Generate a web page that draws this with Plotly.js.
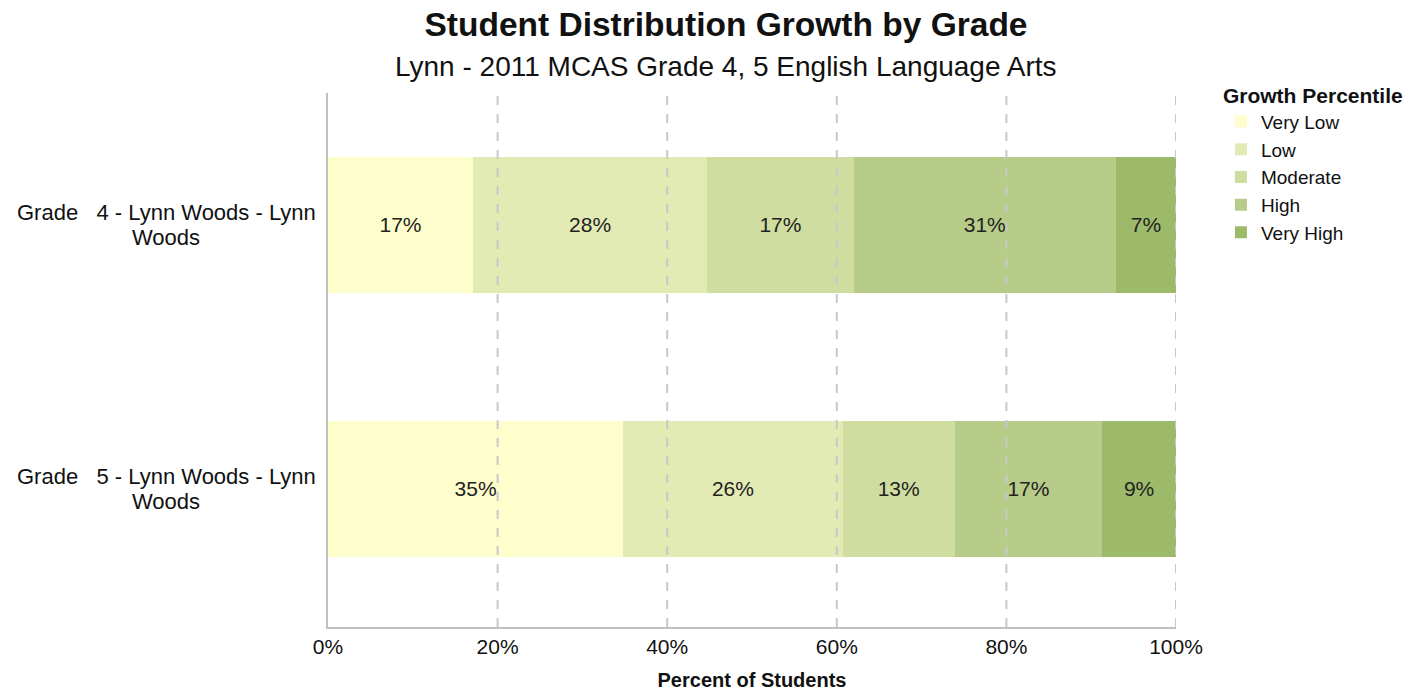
<!DOCTYPE html>
<html>
<head>
<meta charset="utf-8">
<script src="https://cdn.plot.ly/plotly-3.0.1.min.js"></script>
<style>html,body{margin:0;padding:0;background:#fff;}#chart{width:1425px;height:692px;}</style>
</head>
<body>
<div id="chart"></div>
<script>
const categories = ["Grade   4 - Lynn Woods - Lynn<br>Woods", "Grade   5 - Lynn Woods - Lynn<br>Woods"];
const seriesNames = ["Very Low", "Low", "Moderate", "High", "Very High"];
const veryLow  = [17.1, 34.8];
const low      = [27.6, 25.9];
const moderate = [17.3, 13.2];
const high     = [30.9, 17.4];
const veryHigh = [7.1, 8.7];
const labelsVeryLow  = ["17%", "35%"];
const labelsLow      = ["28%", "26%"];
const labelsModerate = ["17%", "13%"];
const labelsHigh     = ["31%", "17%"];
const labelsVeryHigh = ["7%", "9%"];
const xTicks = [0, 20, 40, 60, 80, 100];
const xTickLabels = ["0%", "20%", "40%", "60%", "80%", "100%"];
const gridTicks = [20, 40, 60, 80, 100];
const titleText = "Student Distribution Growth by Grade";
const subtitleText = "Lynn - 2011 MCAS Grade 4, 5 English Language Arts";

const colors = ["#FEFDCC", "#E3EBB5", "#CFDEA0", "#B6CC88", "#9DBA6A"];
const values = [veryLow, low, moderate, high, veryHigh];
const labels = [labelsVeryLow, labelsLow, labelsModerate, labelsHigh, labelsVeryHigh];

const FONT = "Liberation Sans, Arial, sans-serif";

const traces = seriesNames.map((name, i) => ({
  type: "bar",
  orientation: "h",
  name: name,
  y: categories.map((c, k) => k),
  x: values[i],
  text: labels[i],
  textposition: "inside",
  insidetextanchor: "middle",
  textangle: 0,
  constraintext: "none",
  textfont: {family: FONT, size: 21, color: "#222"},
  marker: {color: colors[i], line: {width: 0}},
  width: 0.515,
  hoverinfo: "skip"
}));

const shapes = gridTicks.map(v => ({
  type: "line", xref: "x", yref: "paper", x0: v, x1: v, y0: 0, y1: 1,
  layer: "above", line: {color: "#c8c8c8", width: 2, dash: "dash"}
}));

const annotations = [];
categories.forEach((c, k) => {
  const lines = c.split("<br>");
  lines.forEach((ln, j) => {
    annotations.push({
      xref: "paper", yref: "y", x: -0.191, y: k, xanchor: "center", yanchor: "middle",
      yshift: ((lines.length - 1) / 2 - j) * 25,
      text: ln, showarrow: false, align: "center",
      font: {family: FONT, size: 22, color: "#111"}
    });
  });
});
annotations.push({
  xref: "paper", yref: "paper", x: (726 - 328) / 848, y: 1.049,
  xanchor: "center", yanchor: "middle", showarrow: false,
  text: subtitleText, font: {family: FONT, size: 28, color: "#111"}
});

const layout = {
  width: 1425, height: 692,
  paper_bgcolor: "#fff", plot_bgcolor: "#fff",
  margin: {l: 328, r: 249, t: 93, b: 65},
  barmode: "stack",
  showlegend: true,
  font: {family: FONT, color: "#111"},
  title: {
    text: "<b>" + titleText + "</b>",
    font: {family: FONT, size: 33.5, color: "#111"},
    x: 726 / 1425, xanchor: "center", xref: "container",
    y: 1 - 24 / 692, yanchor: "middle", yref: "container"
  },
  xaxis: {
    range: [0, 100], tickvals: xTicks, ticktext: xTickLabels,
    showgrid: false, zeroline: false,
    showline: true, linecolor: "#c0c0c0", linewidth: 2,
    ticks: "", tickfont: {family: FONT, size: 21, color: "#111"},
    title: {text: "<b>Percent of Students</b>", font: {family: FONT, size: 20, color: "#111"}, standoff: 16},
    fixedrange: true
  },
  yaxis: {
    range: [1.523, -0.5], showticklabels: false,
    showgrid: false, zeroline: false,
    showline: true, linecolor: "#c0c0c0", linewidth: 2,
    ticks: "", fixedrange: true
  },
  legend: {
    title: {text: "<b>Growth Percentile</b>", font: {family: FONT, size: 21, color: "#111"}, side: "top"},
    font: {family: FONT, size: 19, color: "#111"},
    x: 1.053, xanchor: "left", y: 1.033, yanchor: "top",
    traceorder: "normal", itemclick: false, tracegroupgap: 0,
    bgcolor: "rgba(0,0,0,0)"
  },
  shapes: shapes,
  annotations: annotations
};

Plotly.newPlot("chart", traces, layout, {displayModeBar: false, staticPlot: true});
</script>
</body>
</html>
